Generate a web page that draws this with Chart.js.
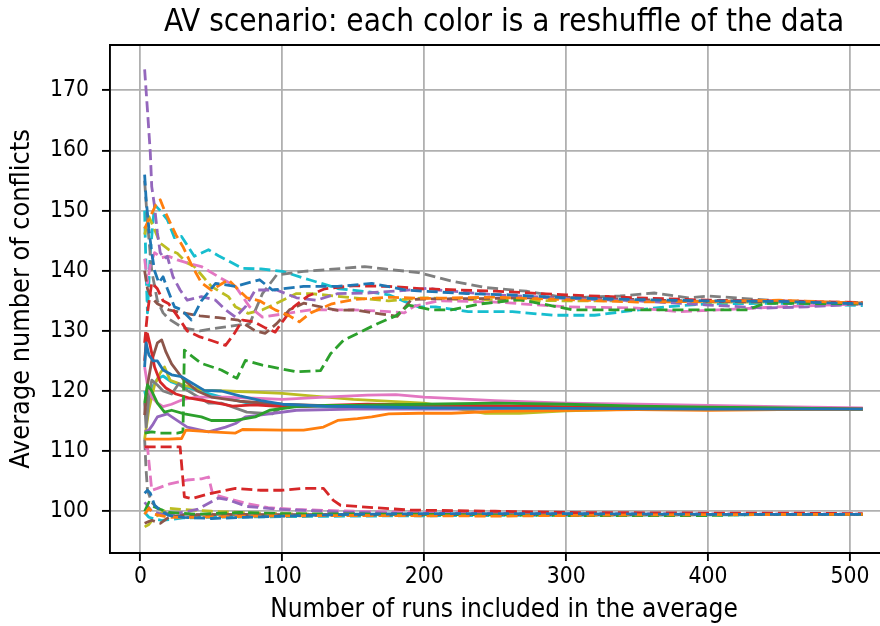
<!DOCTYPE html>
<html>
<head>
<meta charset="utf-8">
<style>
  html, body { margin: 0; padding: 0; overflow: hidden; background: #fff; }
  canvas { display: block; }
</style>
<script src="https://cdn.jsdelivr.net/npm/chart.js@4/dist/chart.umd.min.js"></script>
</head>
<body>
<canvas id="chart" width="898" height="626"></canvas>
<script>
// Axis ticks
const runTicks = [0, 100, 200, 300, 400, 500];
const conflictTicks = [100, 110, 120, 130, 140, 150, 160, 170];

// tab10 colours, one per reshuffle
const shuffleColors = ['#1f77b4', '#ff7f0e', '#2ca02c', '#d62728', '#9467bd',
                       '#8c564b', '#e377c2', '#7f7f7f', '#bcbd22', '#17becf'];

// Running averages, [runs, average conflicts]
// Upper band (dashed)
const blueA = [[3,156],[4,152],[6,147],[8,143],[10,140],[13,138],[16,139],[19,137],[24,134],[29,133.5],[36,131.8],[43,135],[53,137.9],[67,137.4],[84,138.5],[93,136.8],[115,137.4],[139,137.4],[163,137.9],[187,136.8],[200,136.6],[230,136.2],[260,136],[300,135.5],[350,135.2],[400,135],[450,134.9],[509,134.5]];
const orangeA = [[3,147],[5,148],[8,149.5],[11,151],[14,151.8],[17,150],[20,148.5],[25,146],[30,144],[36,141],[43,138],[50,136.8],[62,138.5],[75,135.5],[84,135],[95,133.5],[105,132.5],[112,131.5],[120,133],[135,134.5],[150,135.2],[175,135.6],[200,135.4],[250,135.6],[300,135.2],[350,134.8],[400,134.9],[450,135.1],[509,134.6]];
const greenA = [[3,113],[8,113.2],[14,113],[20,113],[26,113],[30,113.2],[31,126.8],[34,126.2],[43,124.6],[57,123.5],[68,122.1],[74,125.1],[86,124.3],[110,123.2],[127,123.4],[134,126.2],[143,128.4],[155,129.8],[167,131.2],[180,132.5],[189,134.3],[205,133.5],[219,133.5],[240,134.5],[267,135.2],[305,133.5],[338,133.5],[386,133.5],[428,133.5],[440,134.6],[509,134.5]];
const redA = [[3,128],[5,133],[8,138],[12,137],[16,135],[20,134.5],[26,132.5],[33,130],[42,129],[50,128.4],[60,127.6],[66,129.5],[72,131.8],[80,131.5],[88,130.5],[95,129.8],[100,131.5],[108,134],[118,135.8],[130,137],[150,137.5],[175,137.4],[200,137],[250,136.6],[300,136],[350,135.5],[400,135.1],[450,135],[509,134.7]];
const purpleA = [[3,173.5],[5,166.7],[7,159.6],[8,154],[10,150.7],[12,146.3],[14,143],[17,142],[19,142.4],[23,139],[28,136.8],[33,135.1],[43,135.7],[53,135.1],[60,133.5],[67,132.3],[74,134],[81,136.8],[96,136.8],[110,135.5],[124,135.1],[139,136.2],[160,136.3],[196,136.9],[203,137.1],[210,136.8],[250,136],[300,135.4],[350,135],[400,134.3],[440,133.8],[470,134],[509,134.5]];
const brownA = [[3,140],[5,137],[8,135.5],[12,134.5],[16,134],[20,133.5],[30,133],[42,132.5],[55,132.2],[69,131.8],[81,130],[88,129.6],[96,131.2],[105,133.5],[115,134.6],[127,134],[139,133.4],[150,133.5],[170,132.8],[181,132.4],[191,135.2],[200,135.3],[250,135.4],[300,135.6],[350,135.2],[400,134.9],[450,134.8],[509,134.7]];
const pinkA = [[3,142],[5,138],[7,141],[10,143],[15,142.2],[20,142.4],[26,141.8],[33,141.3],[43,140.7],[55,139],[67,137.4],[77,134],[86,132.3],[100,132.8],[120,133.5],[150,133.5],[175,133.2],[186,133],[193,134.1],[210,135],[250,134.8],[300,134],[350,133.8],[380,133.2],[400,133.4],[450,134],[509,134.5]];
const grayA = [[3,155],[5,148],[8,140],[12,135],[16,133],[20,132],[30,130.5],[42,130],[55,130.5],[70,131],[77,131.2],[86,136.2],[96,139.3],[115,139.9],[143,140.4],[158,140.7],[172,140.3],[196,139.7],[219,138.3],[243,137.2],[272,136.6],[300,135.5],[338,135.8],[362,136.3],[386,135.5],[400,135.8],[450,135],[509,134.6]];
const oliveA = [[3,146],[6,149],[9,147.4],[14,144.6],[20,143.5],[26,142.9],[33,141.3],[38,140.7],[50,137.4],[62,135.7],[67,134],[76,132.9],[86,133.5],[96,134.6],[110,136.2],[120,136.2],[150,135.5],[175,135],[200,135.5],[230,135.2],[300,135],[350,135],[400,134.8],[450,134.8],[509,134.5]];
const cyanA = [[3,150],[4,140],[5,133],[7,143],[10,151],[14,150],[19,148.5],[24,145.5],[29,145.7],[38,142.4],[48,143.5],[55,142.5],[72,140.4],[85,140.3],[100,139.9],[119,138.5],[140,137],[160,136.5],[175,136],[186,134.9],[196,134],[208,134],[231,133.2],[262,133.2],[291,132.6],[320,132.6],[340,133.2],[370,134],[400,134.5],[450,134.6],[509,134.2]];

// Middle band (solid)
const blueB = [[3,124],[4,128],[6,126],[9,125],[12,125],[16,123.5],[22,122.7],[29,122.4],[33,121.8],[45,120.1],[57,120],[70,119.2],[85,118.4],[100,117.8],[130,117.5],[175,117.3],[200,117.2],[300,117.1],[400,117],[509,117]];
const orangeB = [[3,112],[10,112],[20,112],[29,112.1],[32,113.5],[50,113.2],[67,113],[72,113.6],[100,113.5],[115,113.5],[129,114],[139,115.1],[153,115.4],[163,115.7],[175,116.2],[196,116.3],[219,116.3],[250,116.6],[300,116.8],[350,116.9],[400,116.8],[450,116.9],[509,117]];
const greenB = [[3,118],[5,121],[8,120],[12,118],[17,116.5],[22,116.8],[31,116.2],[43,115.7],[50,115.1],[67,115.1],[81,115.7],[91,116.8],[110,117.4],[130,117.6],[150,117.6],[200,117.8],[250,118],[300,117.8],[350,117.5],[400,117.3],[450,117.2],[509,117]];
const redB = [[3,125],[4,128],[5,129.5],[7,127.5],[10,124],[14,121.5],[18,120.5],[25,119.5],[35,118.8],[50,118.2],[65,117.5],[80,117.7],[100,117.4],[130,117.6],[160,117.8],[200,117.7],[300,117.4],[400,117.2],[509,117]];
const purpleB = [[3,113.2],[6,113.5],[9,114.5],[12,115.7],[19,116.2],[24,115.4],[33,114],[48,113.2],[60,114],[67,114.6],[74,115.7],[91,116.2],[110,116.8],[150,117],[200,117],[300,117],[400,117],[509,117.1]];
const brownB = [[3,116],[5,121],[8,125],[12,128],[15,128.5],[18,126.5],[22,124.5],[30,122],[40,120],[50,119],[70,118.3],[100,117.8],[150,117.4],[200,117.2],[300,117],[509,117]];
const pinkB = [[3,124],[5,121],[8,119],[12,118],[16,117.4],[22,117.8],[30,118.6],[40,119],[60,119],[80,118.8],[100,118.6],[130,119],[160,119.3],[180,119.4],[200,119],[250,118.4],[300,118],[350,117.8],[400,117.6],[450,117.4],[509,117.2]];
const grayB = [[3,118],[4,114],[6,119],[8,121.8],[12,121],[16,120],[22,119.5],[27,121.2],[33,120.1],[48,118],[57,118],[75,116.5],[93,116.2],[100,117.4],[115,117.4],[150,117.6],[200,117.5],[300,117.2],[400,117.1],[509,117.1]];
const oliveB = [[3,112],[6,117],[10,121],[14,123],[17,124],[21,121.8],[30,121],[45,120.1],[60,120],[80,119.8],[100,119.6],[120,119.2],[150,118.6],[200,118],[243,116.3],[267,116.3],[300,116.7],[350,117],[400,117],[450,117],[509,117]];
const cyanB = [[3,120],[5,118],[8,120.5],[12,122],[16,122.5],[22,121.5],[30,120.8],[40,120.1],[57,119],[76,118],[100,117.6],[150,117.3],[200,117.3],[300,117.1],[400,117],[509,117]];

// Lower band (dashed)
const blueC = [[3,103],[5,103.5],[7,103],[10,101],[15,100],[20,99.3],[30,99],[50,98.8],[100,99.2],[150,99.5],[200,99.6],[300,99.6],[400,99.5],[509,99.5]];
const orangeC = [[3,99.5],[6,100.5],[10,99.5],[20,99],[40,99],[80,99.2],[150,99.3],[250,99.2],[350,99.4],[509,99.5]];
const greenC = [[3,100],[6,101.5],[10,100.7],[20,99.8],[40,99.5],[70,99.8],[100,99.6],[200,99.5],[300,99.3],[400,99.3],[450,99.5],[509,99.5]];
const redC = [[3,110.7],[15,110.7],[28,110.7],[31,102.4],[36,102.1],[48,102.9],[67,103.8],[84,103.5],[100,103.5],[115,103.8],[129,103.8],[136,101.8],[141,101],[153,100.8],[177,100.4],[190,100.2],[250,100],[300,99.8],[400,99.7],[450,99.7],[509,99.6]];
const purpleC = [[3,101.5],[8,100],[15,99.5],[30,99.8],[40,100.3],[55,102.2],[62,101.9],[75,100.8],[100,100.3],[150,99.8],[200,99.6],[509,99.5]];
const brownC = [[3,98],[8,98.5],[14,98],[20,99],[30,99.3],[60,99.5],[100,99.4],[509,99.5]];
const pinkC = [[3,110.5],[5,110.7],[8,103.5],[12,103.8],[20,104.5],[33,105.2],[43,105.4],[48,105.7],[51,102.8],[62,102.1],[75,101.3],[90,100.6],[110,100.3],[150,100],[200,99.8],[300,99.6],[509,99.5]];
const grayC = [[3,112],[4,107],[5,103.5],[8,101.5],[12,100.5],[20,99.5],[40,99.5],[80,99.4],[150,99.5],[509,99.5]];
const oliveC = [[3,97.4],[6,97.8],[10,99],[20,100.5],[30,100.3],[50,100],[80,99.7],[150,99.4],[300,99.4],[509,99.5]];
const cyanC = [[3,99.8],[6,99],[10,98.7],[15,98.5],[20,98.6],[30,98.9],[50,99],[100,99.1],[150,99.2],[250,99.3],[400,99.4],[509,99.5]];

const reshuffles = [
  [blueA, blueB, blueC], [orangeA, orangeB, orangeC], [greenA, greenB, greenC],
  [redA, redB, redC], [purpleA, purpleB, purpleC], [brownA, brownB, brownC],
  [pinkA, pinkB, pinkC], [grayA, grayB, grayC], [oliveA, oliveB, oliveC],
  [cyanA, cyanB, cyanC]
];

const FONT = '"DejaVu Sans Condensed", "DejaVu Sans", sans-serif';
const DASH = [11, 5];

const datasets = [];
reshuffles.forEach((group, i) => {
  group.forEach((series, k) => {
    datasets.push({
      data: series.map(([x, y]) => ({ x, y })),
      borderColor: shuffleColors[i],
      borderWidth: 2.8,
      borderDash: k === 1 ? [] : DASH,
      borderCapStyle: 'butt',
      borderJoinStyle: 'round',
      pointRadius: 0,
      tension: 0,
      fill: false
    });
  });
});

// top and right spines of the axes box
const frame = {
  id: 'frame',
  afterDatasetsDraw(chart) {
    const { ctx, chartArea: a } = chart;
    ctx.save();
    ctx.strokeStyle = '#000';
    ctx.lineWidth = 1.9;
    ctx.beginPath();
    ctx.moveTo(a.left, a.top);
    ctx.lineTo(a.right, a.top);
    ctx.lineTo(a.right, a.bottom);
    ctx.stroke();
    ctx.restore();
  }
};

new Chart(document.getElementById('chart'), {
  type: 'line',
  data: { datasets },
  plugins: [frame],
  options: {
    responsive: false,
    animation: false,
    events: [],
    layout: { padding: 0 },
    plugins: {
      legend: { display: false },
      tooltip: { enabled: false },
      title: {
        display: true,
        fullSize: false,
        text: 'AV scenario: each color is a reshuffle of the data',
        color: '#000',
        font: { family: FONT, size: 31.2, weight: 'normal', lineHeight: 1.2 },
        padding: { top: 4.5, bottom: 3.1 }
      }
    },
    scales: {
      x: {
        type: 'linear',
        min: -21.4,
        max: 533.8,
        afterBuildTicks(scale) { scale.ticks = runTicks.map(v => ({ value: v })); },
        afterFit(scale) { scale.height = 73; },
        grid: { color: '#b0b0b0', lineWidth: 1.8, tickColor: '#000', tickWidth: 1.9, tickLength: 8 },
        border: { display: true, color: '#000', width: 1.9 },
        ticks: { color: '#000', padding: 2, font: { family: FONT, size: 22.7, lineHeight: 1.2 }, maxRotation: 0 },
        title: {
          display: true,
          text: 'Number of runs included in the average',
          color: '#000',
          font: { family: FONT, size: 26, lineHeight: 1.2 },
          padding: { top: 0, bottom: 0.5 }
        }
      },
      y: {
        type: 'linear',
        min: 93.06,
        max: 177.54,
        afterBuildTicks(scale) { scale.ticks = conflictTicks.map(v => ({ value: v })); },
        afterFit(scale) { scale.width = 110; },
        grid: { color: '#b0b0b0', lineWidth: 1.8, tickColor: '#000', tickWidth: 1.9, tickLength: 8 },
        border: { display: true, color: '#000', width: 1.9 },
        ticks: { color: '#000', padding: 13, font: { family: FONT, size: 22.7, lineHeight: 1.2 } },
        title: {
          display: true,
          text: 'Average number of conflicts',
          color: '#000',
          font: { family: FONT, size: 26.8, lineHeight: 1.2 },
          padding: { top: 6.4, bottom: 0 }
        }
      }
    }
  }
});
</script>
</body>
</html>
